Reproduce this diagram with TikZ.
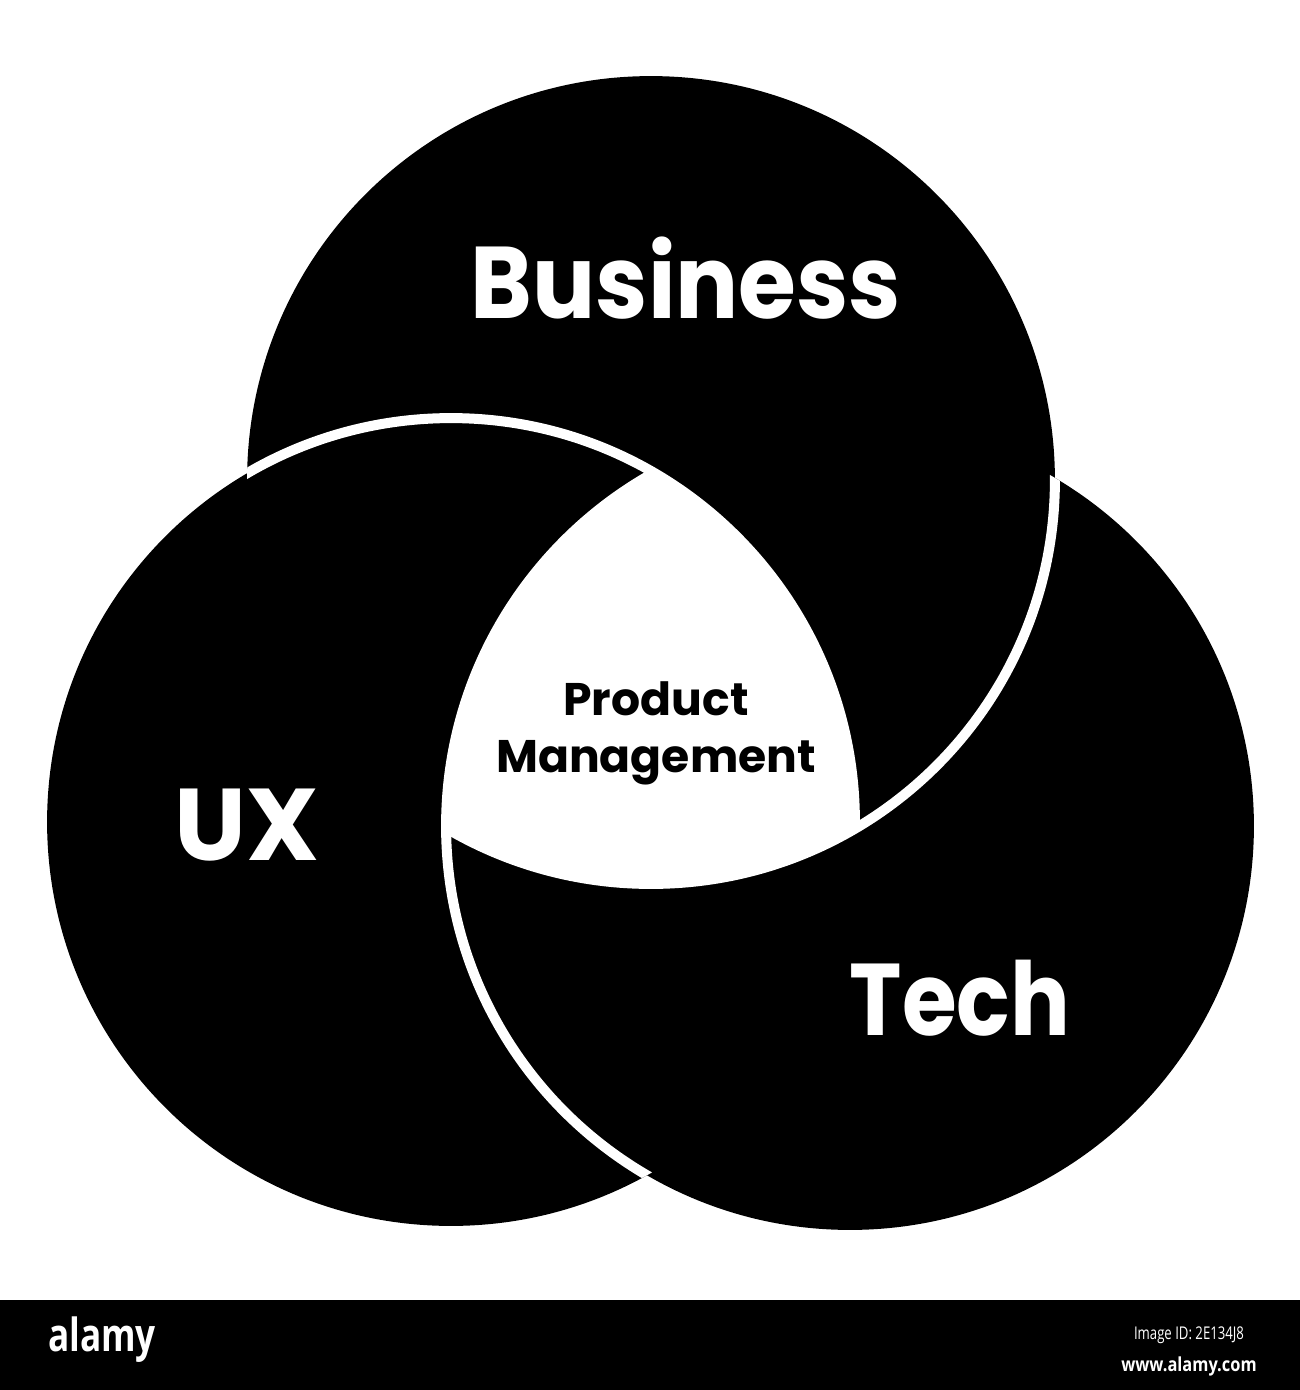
\documentclass[tikz,border=0pt]{standalone}
\usepackage{fontspec}
\setmainfont{Poppins}
\newfontfamily\bandfont{Open Sans}
\usetikzlibrary{positioning}
\newcommand{\ringrad}{8.08cm}

\begin{document}
\begin{tikzpicture}[x=0.02cm,y=-0.02cm,
  ring/.style={white,line width=0.2cm},
  bigtext/.style={white,anchor=base,font=\fontsize{58}{60}\selectfont\bfseries},
  pmtext/.style={black,anchor=base,align=center,font=\fontsize{26}{32.4}\selectfont\bfseries},
  bandtext/.style={white,inner sep=0pt}]
\fill[white] (0,0) rectangle (1300,1390);
\useasboundingbox (0,0) rectangle (1300,1390);
% Circle centres
\coordinate (cB) at (651,480);
\coordinate (cU) at (451,822);
\coordinate (cT) at (850,826);
% Black discs
\fill[black] (cB) circle[radius=\ringrad];
\fill[black] (cU) circle[radius=\ringrad];
\fill[black] (cT) circle[radius=\ringrad];
% White common part
\begin{scope}
  \clip (cU) circle[radius=\ringrad];
  \clip (cT) circle[radius=\ringrad];
  \fill[white] (cB) circle[radius=\ringrad];
\end{scope}
% White rims, each one inside the next disc
\begin{scope}
  \clip (cB) circle[radius=\ringrad];
  \draw[ring] (cU) circle[radius=\ringrad];
\end{scope}
\begin{scope}
  \clip (cT) circle[radius=\ringrad];
  \draw[ring] (cB) circle[radius=\ringrad];
\end{scope}
\begin{scope}
  \clip (cU) circle[radius=\ringrad];
  \draw[ring] (cT) circle[radius=\ringrad];
\end{scope}
% Labels
\node[bigtext] (business) at (686,318) {\scalebox{0.92}[1]{Business}};
\node[bigtext] (ux) at (247,860) {UX};
\node[bigtext] (tech) at (960,1035) {\scalebox{0.87}[1]{Tech}};
\node[pmtext] (pm) at (656,772) {Product\\Management};
% Bottom band
\fill[black] (0,1300) rectangle (1300,1390);
\node[bandtext,font=\bandfont\fontsize{26}{28}\selectfont\bfseries] (alamy) at (102,1340) {\scalebox{0.77}[1]{alamy}};
\node[bandtext,font=\bandfont\fontsize{10}{12}\selectfont] (imgid) at (1189,1335) {\scalebox{0.75}[1]{Image ID: 2E134J8}};
\node[bandtext,font=\bandfont\fontsize{11}{13}\selectfont\bfseries,below=7pt of imgid] (site) {\scalebox{0.85}[1]{www.alamy.com}};
\end{tikzpicture}
\end{document}
